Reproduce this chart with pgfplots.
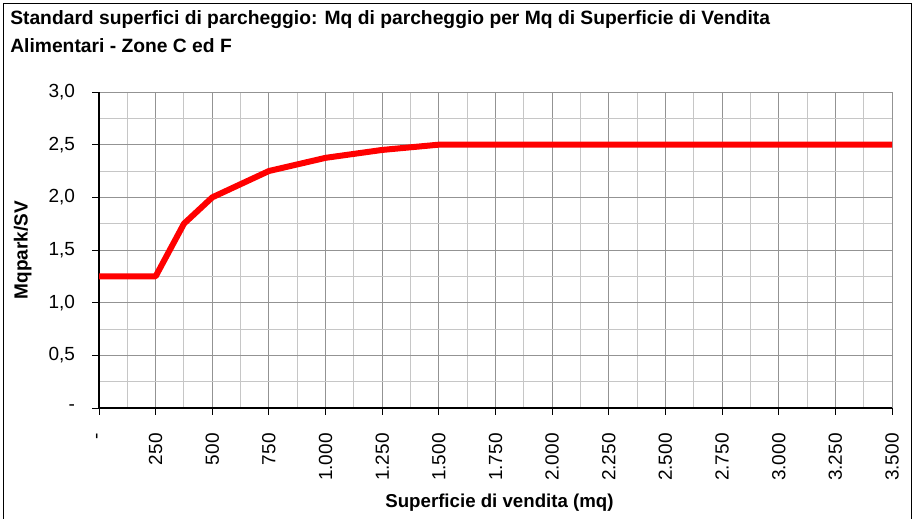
\documentclass[border=0pt]{standalone}
\usepackage{pgfplots}
\pgfplotsset{compat=1.18}
\usepackage{fontspec}
\setmainfont{Liberation Sans}
\begin{document}
\begin{tikzpicture}[x=1pt,y=1pt]
\useasboundingbox (0,0) rectangle (687,388.5);
\draw[black, line width=1pt] (2.5,-10) rectangle (683.5,386);
\begin{axis}[
  scale only axis,
  width=594.75pt, height=237pt,
  at={(74.25pt,82.5pt)}, anchor=south west,
  xmin=0, xmax=3500, ymin=0, ymax=3,
  axis x line*=bottom, axis y line*=left,
  axis line style={black, line width=0.8pt},
  xtick={0,250,...,3500},
  xticklabels={-,250,500,750,1.000,1.250,1.500,1.750,2.000,2.250,2.500,2.750,3.000,3.250,3.500},
  ytick={0,0.5,...,3},
  yticklabels={-,{0,5},{1,0},{1,5},{2,0},{2,5},{3,0}},
  minor x tick num=1, minor y tick num=1,
  grid=both,
  major grid style={gray!85, line width=0.7pt},
  minor grid style={gray!45, line width=0.7pt},
  tick align=outside,
  major tick length=5pt, minor tick length=0pt,
  tick style={black, line width=0.7pt},
  ticklabel style={font=\fontsize{14.25}{17}\selectfont},
  xticklabel style={rotate=90, anchor=east, xshift=-10.5pt},
  yticklabel style={xshift=-9.5pt},
]
\addplot[red, line width=4.5pt, line join=round] coordinates {
(0,1.25) (250,1.25) (375,1.75) (500,2.0) (750,2.25) (1000,2.375) (1250,2.45) (1500,2.5) (3500,2.5)
};
\end{axis}
\node[anchor=base west, font=\bfseries\fontsize{14.45}{17}\selectfont, inner sep=0] at (7.5,369.75) {Standard superfici di parcheggio: Mq di parcheggio per Mq di Superficie di Vendita};
\node[anchor=base west, font=\bfseries\fontsize{14.45}{17}\selectfont, inner sep=0] at (7.5,348.75) {Alimentari - Zone C ed F};
\node[rotate=90, font=\bfseries\fontsize{14.25}{17}\selectfont, inner sep=0] at (17,201) {Mqpark/SV};
\node[anchor=base, font=\bfseries\fontsize{14}{17}\selectfont, inner sep=0] at (374.6,8) {Superficie di vendita (mq)};
\end{tikzpicture}
\end{document}
